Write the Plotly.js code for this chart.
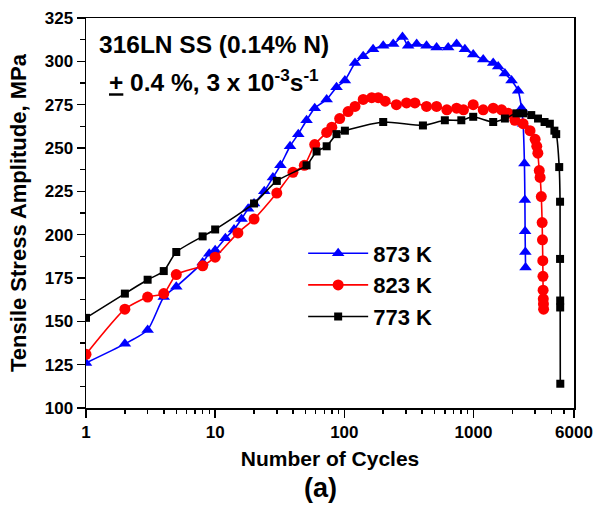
<!DOCTYPE html>
<html>
<head>
<meta charset="utf-8">
<script src="https://cdn.plot.ly/plotly-3.0.1.min.js"></script>
<style>html,body{margin:0;padding:0;background:#fff;}#chart{width:595px;height:508px;}</style>
</head>
<body>
<div id="chart"></div>
<script>
// 873 K
var cycles873 = [1,2,3,4,5,8,9,10,12,14,16,18,20,24,28,32,38,44,51,59,73,87,101,121,140,167,200,239,282,312,363,433,518,637,740,858,995,1189,1421,1553,1750,1970,2217,2354,2420,2480,2500,2510,2520,2530];
var stress873 = [126,137,145,164,170,184,189,191,198,203,209,215,218,225,233,240,251,258,266,273,278,285,289,299,303,307,309,310,314,309,310,309,308,308,310,307,304,301,299,297,293,289,283,273,264,241,220,202,190,181];
// 823 K
var cycles823 = [1,2,3,4,5,8,10,15,20,30,40,49,59,73,80,92,107,121,140,163,183,207,253,303,352,433,518,622,740,837,995,1189,1421,1650,1859,2093,2420,2740,3000,3090,3150,3230,3280,3350,3400,3420,3440,3450,3460,3470,3480,3490];
var stress823 = [131,157,164,166,177,182,187,201,209,224,236,240,252,259,262,267,271,274,278,279,279,277,275,276,276,274,274,272,273,272,275,272,273,272,270,266,264,260,255,251,247,237,233,222,207,197,185,176,168,163,160,157];
// 773 K
var cycles773 = [1,2,3,4,5,8,10,20,30,51,61,73,87,101,200,406,600,805,995,1421,1750,2150,2420,2800,3160,3550,3900,4230,4370,4610,4680,4680,4690,4690,4700];
var stress773 = [152,166,174,179,190,199,203,218,231,240,248,251,258,260,265,263,266,266,268,265,267,270,270,269,267,265,264,260,258,239,219,186,162,158,114];

var seriesNames = ['873 K','823 K','773 K'];
var xTickVals = [1,10,100,1000,6000];
var xTickText = ['1','10','100','1000','6000'];

var FONT = 'Liberation Sans, Arial, sans-serif';

function mk(x, y, name, color, symbol, size) {
  return {
    x: x, y: y, name: name, type: 'scatter', mode: 'lines+markers',
    line: {color: color, width: 1.6, shape: 'spline', smoothing: 0.6},
    marker: {color: color, symbol: symbol, size: size}
  };
}

var traces = [
  mk(cycles873, stress873, seriesNames[0], '#0000ff', 'triangle-up', 11),
  mk(cycles823, stress823, seriesNames[1], '#ff0000', 'circle', 11),
  mk(cycles773, stress773, seriesNames[2], '#000000', 'square', 8)
];

var minorX = [];
for (var d = 1; d <= 1000; d *= 10) {
  for (var k = 2; k <= 9; k++) { if (d * k < 6000) minorX.push(d * k); }
}

var layout = {
  width: 595, height: 508,
  margin: {l: 86, r: 21, t: 18, b: 100},
  paper_bgcolor: '#fff', plot_bgcolor: '#fff',
  font: {family: FONT, color: '#000'},
  showlegend: true,
  legend: {
    x: 0.445, y: 0.45, xanchor: 'left', yanchor: 'top',
    bgcolor: 'rgba(0,0,0,0)',
    font: {family: FONT, size: 22, weight: 700, color: '#000'},
    itemwidth: 60, tracegroupgap: 0
  },
  xaxis: {
    type: 'log', range: [0, Math.log10(6000)],
    tickmode: 'array', tickvals: xTickVals, ticktext: xTickText,
    ticks: 'outside', ticklen: 8, tickwidth: 1.5, tickcolor: '#000',
    showline: true, linecolor: '#000', linewidth: 1.5, mirror: true,
    showgrid: false, zeroline: false,
    tickfont: {family: FONT, size: 17, weight: 700},
    minor: {tickmode: 'array', tickvals: minorX, ticks: 'outside', ticklen: 4, tickwidth: 1.5, tickcolor: '#000', showgrid: false},
    title: {text: 'Number of Cycles', font: {family: FONT, size: 21, weight: 700}, standoff: 10}
  },
  yaxis: {
    range: [100, 325], tick0: 100, dtick: 25,
    ticks: 'outside', ticklen: 8, tickwidth: 1.5, tickcolor: '#000',
    showline: true, linecolor: '#000', linewidth: 1.5, mirror: true,
    showgrid: false, zeroline: false,
    tickfont: {family: FONT, size: 17, weight: 700},
    minor: {dtick: 12.5, tick0: 100, ticks: 'outside', ticklen: 5, tickwidth: 1.5, tickcolor: '#000', showgrid: false},
    title: {text: 'Tensile Stress Amplitude, MPa', font: {family: FONT, size: 22, weight: 700}, standoff: 12}
  },
  annotations: [
    {xref: 'paper', yref: 'paper', x: 0.022, y: 0.931, xanchor: 'left', yanchor: 'middle', showarrow: false,
     text: '316LN SS (0.14% N)', font: {family: FONT, size: 24.5, weight: 700}},
    {xref: 'paper', yref: 'paper', x: 0.043, y: 0.841, xanchor: 'left', yanchor: 'middle', showarrow: false,
     text: '<u>+</u> 0.4 %, 3 x 10<sup>-3</sup>s<sup>-1</sup>', font: {family: FONT, size: 24.5, weight: 700}},
    {xref: 'paper', yref: 'paper', x: 0.48, y: -0.205, xanchor: 'center', yanchor: 'middle', showarrow: false,
     text: '(a)', font: {family: FONT, size: 27, weight: 700}}
  ]
};

Plotly.newPlot('chart', traces, layout, {displayModeBar: false, staticPlot: true});
</script>
</body>
</html>
